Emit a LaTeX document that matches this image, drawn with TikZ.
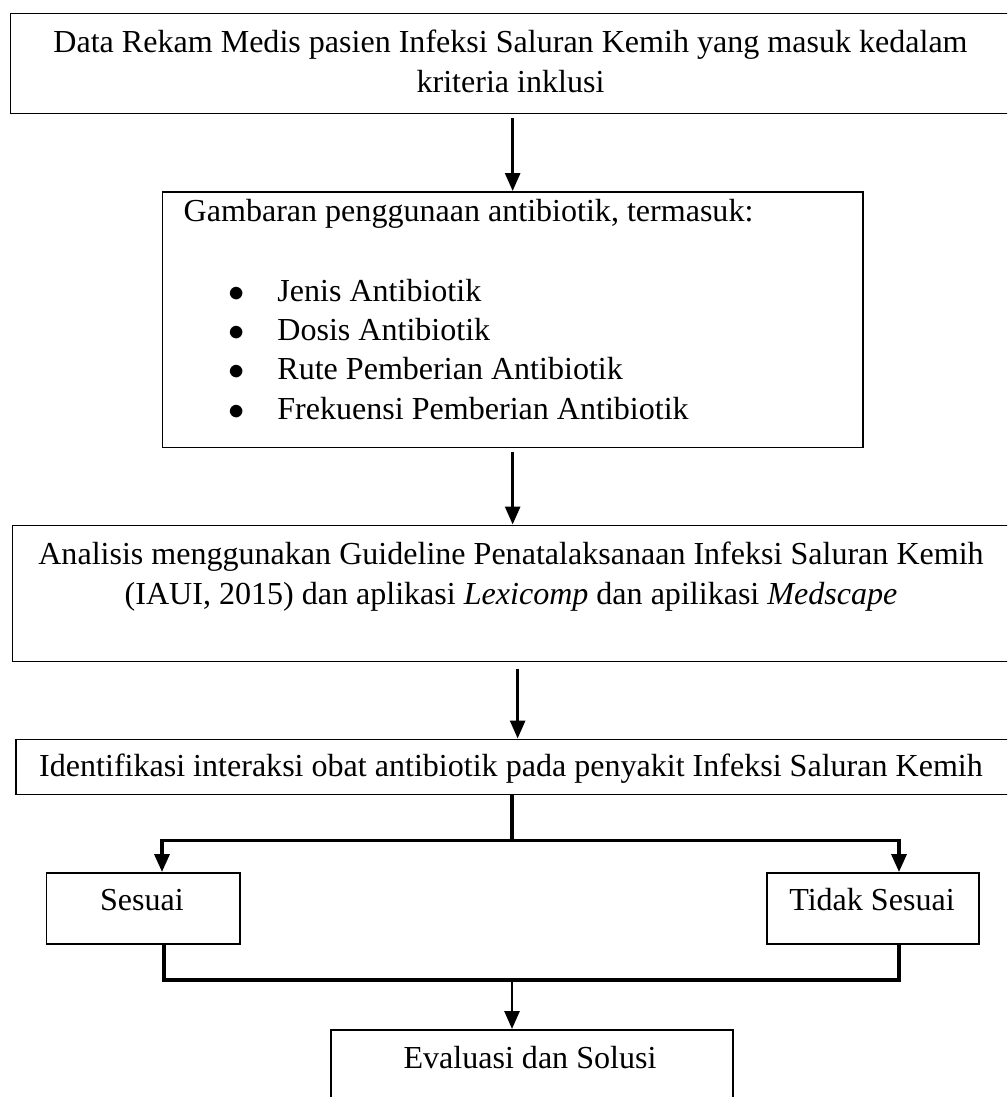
\documentclass[tikz,border=0pt]{standalone}
\usepackage{fontspec}
\setmainfont{Liberation Serif}
\usetikzlibrary{arrows.meta}

\begin{document}
\begin{tikzpicture}[
  box/.style={draw, line width=0.45pt, inner sep=0pt, anchor=north west},
  txt/.style={font=\fontsize{9.12pt}{11.2pt}\selectfont, inner sep=0pt, align=center, anchor=base},
  ujung/.style={-{Triangle[length=0.18cm, width=0.15cm]}},
  arr/.style={line width=0.8pt, ujung},
  conn/.style={line width=1pt}
]

  \path[use as bounding box, clip] (0,0) rectangle (10.07,-10.97);

  % kotak
  \node[box, minimum width=10.00cm, minimum height=1.00cm] (data) at (0.095,-0.127) {};
  \node[box, minimum width=7.003cm, minimum height=2.557cm] (gambaran) at (1.617,-1.91) {};
  \node[box, minimum width=9.983cm, minimum height=1.362cm] (analisis) at (0.117,-5.245) {};
  \node[box, minimum width=9.95cm, minimum height=0.55cm] (identifikasi) at (0.15,-7.385) {};
  \node[box, minimum width=1.933cm, minimum height=0.71cm] (sesuai) at (0.457,-8.72) {};
  \node[box, minimum width=2.12cm, minimum height=0.71cm] (tidak) at (7.66,-8.72) {};
  \node[box, minimum width=4.02cm, minimum height=1.00cm] (evaluasi) at (3.30,-10.29) {};

  % teks
  \node[txt] (dataTeks) at (5.105,-0.923) {Data Rekam Medis pasien Infeksi Saluran Kemih yang masuk kedalam\\kriteria inklusi};
  \node[txt, anchor=base west] (judul) at (1.83,-2.217) {Gambaran penggunaan antibiotik, termasuk:};
  \foreach \teks [count=\i] in {Jenis Antibiotik, Dosis Antibiotik, Rute Pemberian Antibiotik, Frekuensi Pemberian Antibiotik} {
    \node[txt] (titik\i) at (2.37,{-3.017-0.391*(\i-1)}) {$\bullet$};
    \node[txt, anchor=base west] (butir\i) at (2.767,{-3.017-0.391*(\i-1)}) {\teks};
  }
  \node[txt] (analisisTeks) at (5.11,-6.043) {Analisis menggunakan Guideline Penatalaksanaan Infeksi Saluran Kemih\\(IAUI, 2015) dan aplikasi \textit{Lexicomp} dan apilikasi \textit{Medscape}};
  \node[txt] (identifikasiTeks) at (5.11,-7.767) {Identifikasi interaksi obat antibiotik pada penyakit Infeksi Saluran Kemih};
  \node[txt] (sesuaiTeks) at (1.42,-9.107) {Sesuai};
  \node[txt] (tidakTeks) at (8.72,-9.107) {Tidak Sesuai};
  \node[txt] (evaluasiTeks) at (5.30,-10.68) {Evaluasi dan Solusi};

  % panah
  \draw[arr] ([yshift=-0.04cm]data.south -| gambaran.north) -- (gambaran.north);
  \draw[arr] ([yshift=-0.04cm]gambaran.south) -- (gambaran.south |- analisis.north);
  \draw[arr] ([xshift=0.06cm, yshift=-0.07cm]analisis.south) -- ([xshift=0.06cm]analisis.south |- identifikasi.north);

  \coordinate (cabang) at (5.12,-8.407);
  \coordinate (cabangKiri) at (1.62,-8.407);
  \coordinate (cabangKanan) at (8.99,-8.407);
  \draw[conn] (identifikasi.south -| cabang) -- (cabang);
  \draw[conn, ujung] (cabang) -- (cabangKiri) -- (cabangKiri |- sesuai.north);
  \draw[conn, ujung] (cabang) -- (cabangKanan) -- (cabangKanan |- tidak.north);

  \coordinate (gabung) at (5.12,-9.80);
  \coordinate (gabungKiri) at (1.64,-9.80);
  \coordinate (gabungKanan) at (8.99,-9.80);
  \draw[conn] (gabungKiri |- sesuai.south) -- (gabungKiri) -- (gabungKanan) -- (gabungKanan |- tidak.south);
  \draw[arr] (gabung) -- (gabung |- evaluasi.north);

\end{tikzpicture}
\end{document}
